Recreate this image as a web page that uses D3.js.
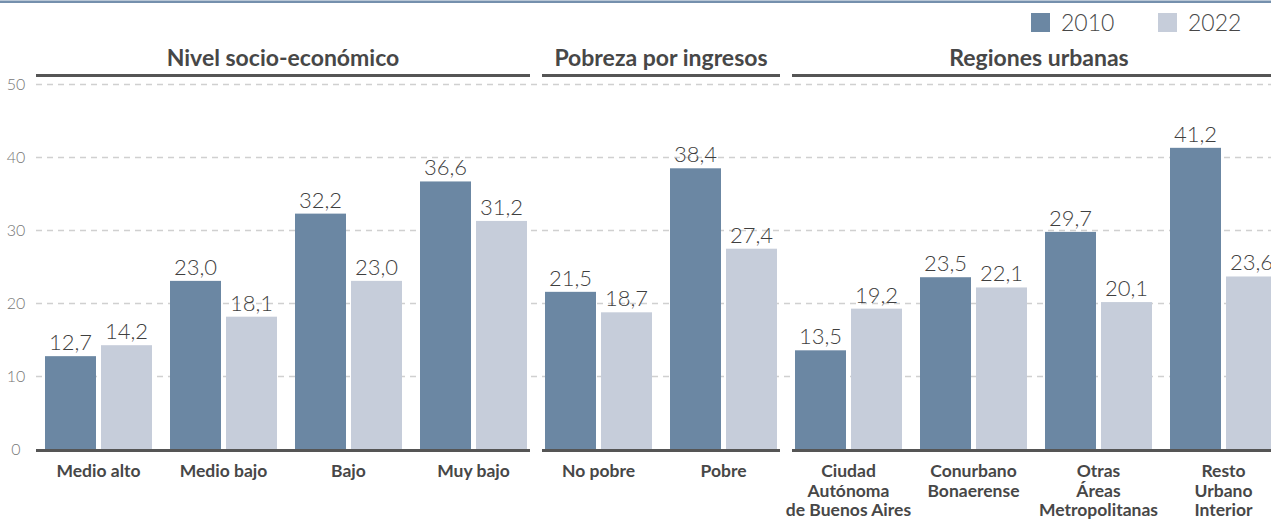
<!DOCTYPE html>
<html>
<head>
<meta charset="utf-8">
<script src="https://cdn.jsdelivr.net/npm/d3@7"></script>
<style>
  body { margin: 0; background: #fff; }
  svg { display: block; font-family: Lato, "Open Sans", sans-serif; }
</style>
</head>
<body>
<svg id="chart" width="1271" height="521"></svg>
<script>
// categories (label lines) and the panel each belongs to
const categories = [
  ['Medio alto'], ['Medio bajo'], ['Bajo'], ['Muy bajo'],
  ['No pobre'], ['Pobre'],
  ['Ciudad', 'Autónoma', 'de Buenos Aires'], ['Conurbano', 'Bonaerense'],
  ['Otras', 'Áreas', 'Metropolitanas'], ['Resto', 'Urbano', 'Interior']
];
const groups = [
  { name: 'Nivel socio-económico', from: 0, to: 3 },
  { name: 'Pobreza por ingresos', from: 4, to: 5 },
  { name: 'Regiones urbanas', from: 6, to: 9 }
];
const series = ['2010', '2022'];
const values2010 = [12.7, 23.0, 32.2, 36.6, 21.5, 38.4, 13.5, 23.5, 29.7, 41.2];
const values2022 = [14.2, 18.1, 23.0, 31.2, 18.7, 27.4, 19.2, 22.1, 20.1, 23.6];
const yTicks = [0, 10, 20, 30, 40, 50];

const colors = { '2010': '#6b87a3', '2022': '#c6cdda' };
const textColor = '#474747';

const svg = d3.select('#chart');
const fmt = d3.formatLocale({ decimal: ',', thousands: '.', grouping: [3], currency: ['', ''] }).format('.1f');

const x = d3.scaleBand()
  .domain(d3.range(categories.length))
  .range([36, 1286])
  .paddingInner(0.144)
  .paddingOuter(0.072);
const xInner = d3.scaleBand()
  .domain(series)
  .range([0, x.bandwidth()])
  .paddingInner(5 / 56);
const y = d3.scaleLinear().domain([0, 50]).range([449, 83.5]);

// top border
svg.append('rect')
  .attr('x', 0).attr('y', 0.5)
  .attr('width', 1271).attr('height', 2.5)
  .attr('fill', '#7590ad');

// grid
svg.append('g')
  .selectAll('line')
  .data(yTicks.filter(d => d > 0))
  .enter()
  .append('line')
  .attr('x1', 36).attr('x2', 1271)
  .attr('y1', d => Math.round(y(d)) + 0.5)
  .attr('y2', d => Math.round(y(d)) + 0.5)
  .attr('stroke', '#d0d0d0')
  .attr('stroke-width', 1.5)
  .attr('stroke-dasharray', '6,5');

// y tick labels
svg.append('g')
  .selectAll('text')
  .data(yTicks)
  .enter()
  .append('text')
  .attr('x', 16)
  .attr('y', d => y(d) + 6)
  .attr('text-anchor', 'middle')
  .attr('font-size', 16)
  .attr('font-weight', 300)
  .attr('fill', '#777')
  .text(d => d);

const step = x.step();
const pad = (step - x.bandwidth()) / 2;
function groupExtent(g, i) {
  let x1 = x(g.from) - pad;
  let x2 = x(g.to) + x.bandwidth() + pad;
  if (i > 0) x1 += 6;
  if (i < groups.length - 1) x2 -= 6;
  return [x1, x2];
}

// bars
const rows = categories.map((c, i) => ({ i, v: { '2010': values2010[i], '2022': values2022[i] } }));
const cat = svg.append('g')
  .selectAll('g')
  .data(rows)
  .enter()
  .append('g')
  .attr('transform', d => `translate(${x(d.i)},0)`);

cat.selectAll('rect')
  .data(d => series.map(s => ({ s, v: d.v[s] })))
  .enter()
  .append('rect')
  .attr('x', d => xInner(d.s))
  .attr('width', xInner.bandwidth())
  .attr('y', d => y(d.v))
  .attr('height', d => y(0) - y(d.v))
  .attr('fill', d => colors[d.s]);

cat.selectAll('text.value')
  .data(d => series.map(s => ({ s, v: d.v[s] })))
  .enter()
  .append('text')
  .attr('class', 'value')
  .attr('x', d => xInner(d.s) + xInner.bandwidth() / 2)
  .attr('y', d => y(d.v) - 6)
  .attr('text-anchor', 'middle')
  .attr('font-size', 22)
  .attr('font-weight', 300)
  .attr('fill', '#3f3f3f')
  .text(d => fmt(d.v));

// baseline and group header lines
groups.forEach((g, i) => {
  const [x1, x2] = groupExtent(g, i);
  svg.append('line')
    .attr('x1', x1).attr('x2', x2)
    .attr('y1', y(0) + 1.5).attr('y2', y(0) + 1.5)
    .attr('stroke', '#555').attr('stroke-width', 3);
  svg.append('line')
    .attr('x1', x1).attr('x2', x2)
    .attr('y1', 75.5).attr('y2', 75.5)
    .attr('stroke', '#555').attr('stroke-width', 3);
  svg.append('text')
    .attr('x', (x1 + x2) / 2)
    .attr('y', 66)
    .attr('text-anchor', 'middle')
    .attr('font-size', 23)
    .attr('font-weight', 700)
    .attr('fill', textColor)
    .text(g.name);
});

// category labels
const labels = svg.append('g')
  .selectAll('text')
  .data(categories)
  .enter()
  .append('text')
  .attr('x', (d, i) => x(i) + x.bandwidth() / 2)
  .attr('y', 477)
  .attr('text-anchor', 'middle')
  .attr('font-size', 17.5)
  .attr('font-weight', 700)
  .attr('fill', textColor);
labels.selectAll('tspan')
  .data(d => d)
  .enter()
  .append('tspan')
  .attr('x', function () { return this.parentNode.getAttribute('x'); })
  .attr('dy', (d, i) => i === 0 ? 0 : 19.5)
  .text(d => d);

// legend
const legend = svg.append('g')
  .selectAll('g')
  .data(series)
  .enter()
  .append('g')
  .attr('transform', (d, i) => `translate(${1031 + i * 127},13)`);
legend.append('rect')
  .attr('width', 19).attr('height', 19)
  .attr('fill', d => colors[d]);
legend.append('text')
  .attr('x', 30).attr('y', 18)
  .attr('font-size', 23)
  .attr('font-weight', 300)
  .attr('fill', textColor)
  .text(d => d);
</script>
</body>
</html>
